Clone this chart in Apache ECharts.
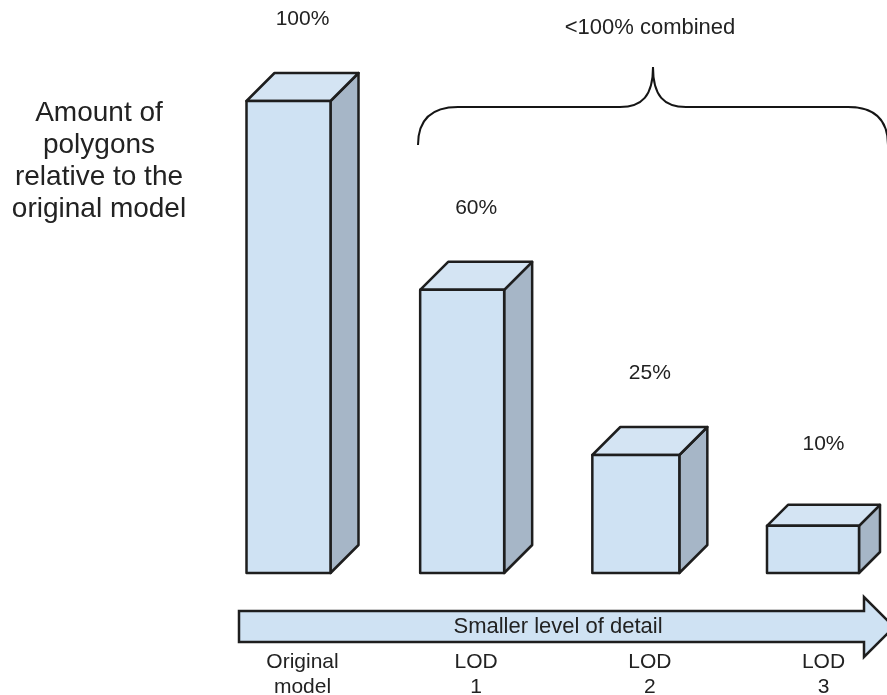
<!DOCTYPE html>
<html>
<head>
<meta charset="utf-8">
<script src="https://cdn.jsdelivr.net/npm/echarts@6/dist/echarts.min.js"></script>
<style>
  html, body { margin: 0; padding: 0; background: #fff; }
  #chart { width: 887px; height: 695px; }
</style>
</head>
<body>
<div id="chart"></div>
<script>
// Polygon share of each level of detail, relative to the original model
const categories = ['Original\nmodel', 'LOD\n1', 'LOD\n2', 'LOD\n3'];
const polygonShare = [100, 60, 25, 10];
const valueLabels = ['100%', '60%', '25%', '10%'];

// Box styling per column: front width and extrusion depth (px)
const frontWidth = [84, 84, 87, 92];
const depth = [28, 28, 28, 21];

const FONT = '"Liberation Sans", Arial, sans-serif';
const FRONT = '#cfe2f3';
const TOP = '#d4e4f3';
const SIDE = '#a6b6c7';
const EDGE = '#1e1e1e';

const chart = echarts.init(document.getElementById('chart'));

function renderBox(params, api) {
  const i = params.dataIndex;
  const top = api.coord([api.value(0), api.value(1)]);
  const base = api.coord([api.value(0), 0]);
  const d = depth[i];
  const w = frontWidth[i];
  const cx = top[0] - d / 2;
  const x0 = cx - w / 2, x1 = cx + w / 2;
  const yT = top[1], yB = base[1];
  const edge = { stroke: EDGE, lineWidth: 2.5, lineJoin: 'round' };
  return {
    type: 'group',
    children: [
      { type: 'polygon',
        shape: { points: [[x1, yT], [x1 + d, yT - d], [x1 + d, yB - d], [x1, yB]] },
        style: Object.assign({ fill: SIDE }, edge) },
      { type: 'polygon',
        shape: { points: [[x0, yT], [x1, yT], [x1 + d, yT - d], [x0 + d, yT - d]] },
        style: Object.assign({ fill: TOP }, edge) },
      { type: 'rect',
        shape: { x: x0, y: yT, width: w, height: yB - yT },
        style: Object.assign({ fill: FRONT }, edge) },
      { type: 'text',
        style: { x: top[0], y: yT - 82, text: valueLabels[i], fill: '#222',
                 font: '21px ' + FONT, align: 'center', verticalAlign: 'middle' } }
    ]
  };
}

// Curly brace over the reduced models, made of curves and straight runs
const braceStyle = { fill: null, stroke: '#151515', lineWidth: 2 };
function curve(x1, y1, cpx1, cpy1, cpx2, cpy2, x2, y2) {
  return { type: 'bezierCurve', shape: { x1, y1, cpx1, cpy1, cpx2, cpy2, x2, y2 }, style: braceStyle };
}
function line(x1, y1, x2, y2) {
  return { type: 'line', shape: { x1, y1, x2, y2 }, style: braceStyle };
}
const brace = [
  curve(418, 145, 418, 120, 431, 107, 458, 107),
  line(458, 107, 620, 107),
  curve(620, 107, 642, 107, 653, 96, 653, 67),
  curve(653, 67, 653, 96, 664, 107, 686, 107),
  line(686, 107, 848, 107),
  curve(848, 107, 875, 107, 888, 120, 888, 145)
];

chart.setOption({
  animation: false,
  backgroundColor: '#ffffff',
  // columns sit on the grid edges (boundaryGap off), so the grid spans first to last column
  grid: { left: 302.5, top: 101, width: 521, height: 472, outerBoundsMode: 'none', containLabel: false },
  xAxis: {
    type: 'category',
    data: categories,
    boundaryGap: false,
    axisLine: { show: false },
    axisTick: { show: false },
    splitLine: { show: false },
    axisLabel: { margin: 77, color: '#222', fontSize: 21, lineHeight: 25, fontFamily: FONT }
  },
  yAxis: { type: 'value', min: 0, max: 100, show: false },
  series: [{
    type: 'custom',
    renderItem: renderBox,
    data: polygonShare.map((v, i) => [i, v]),
    clip: false
  }],
  graphic: [
    { type: 'text', x: 99, y: 161,
      style: { text: 'Amount of\npolygons\nrelative to the\noriginal model',
               font: '28px ' + FONT, fill: '#222', align: 'center',
               verticalAlign: 'middle', lineHeight: 32 } },
    ...brace,
    { type: 'text', x: 650, y: 28,
      style: { text: '<100% combined', font: '22px ' + FONT, fill: '#222',
               align: 'center', verticalAlign: 'middle' } },
    // direction arrow under the columns
    { type: 'polygon',
      shape: { points: [[239, 611], [864, 611], [864, 597], [894, 627], [864, 657], [864, 642], [239, 642]] },
      style: { fill: '#cfe2f3', stroke: '#1e1e1e', lineWidth: 2.5, lineJoin: 'miter' } },
    { type: 'text', x: 558, y: 627,
      style: { text: 'Smaller level of detail', font: '22px ' + FONT, fill: '#222',
               align: 'center', verticalAlign: 'middle' } }
  ]
});
</script>
</body>
</html>
